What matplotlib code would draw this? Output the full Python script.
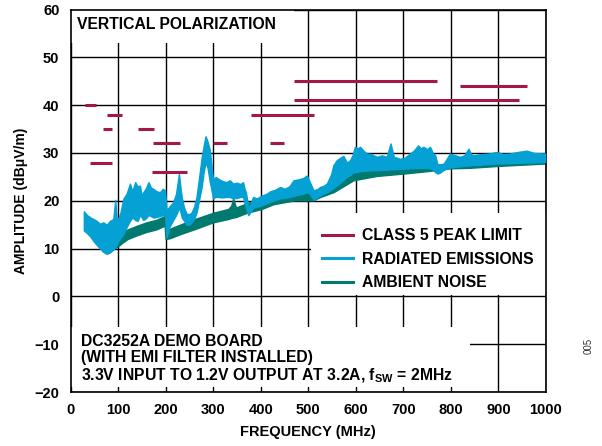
import numpy as np
import matplotlib
matplotlib.use("Agg")
import matplotlib.pyplot as plt
from matplotlib.patches import Rectangle
from matplotlib.lines import Line2D

plt.rcParams['font.family'] = ['Liberation Sans', 'DejaVu Sans']
plt.rcParams['font.weight'] = 'bold'
plt.rcParams['mathtext.fontset'] = 'custom'
plt.rcParams['mathtext.rm'] = 'Liberation Sans:bold'
plt.rcParams['mathtext.bf'] = 'Liberation Sans:bold'

# CISPR 25 class 5 peak limit segments (MHz, dBuV/m)
lim_start = [30, 41, 68, 76, 142, 171, 174, 300, 380, 420, 470, 470, 820]
lim_stop = [54, 88, 87, 108, 175, 245, 230, 330, 512, 450, 944, 770, 960]
lim_level = [40, 28, 35, 38, 35, 26, 32, 32, 38, 32, 41, 45, 44]

# radiated emissions band (upper / lower edge)
re_f = [28, 35, 42, 48, 55, 62, 69, 76, 83, 90,
        94, 97, 100, 105, 111, 118, 125, 130, 136, 141,
        146, 150, 153, 158, 164, 169, 174, 181, 188, 194,
        199, 202, 208, 216, 222, 228, 231, 234, 239, 244,
        250, 255, 260, 265, 270, 276, 280, 284, 288, 293,
        297, 300, 305, 311, 318, 328, 335, 342, 350, 357,
        363, 366, 369, 374, 379, 384, 392, 400, 413, 420,
        430, 441, 450, 460, 469, 480, 490, 497, 503, 511,
        520, 530, 539, 548, 553, 560, 567, 574, 581, 588,
        593, 598, 604, 609, 616, 623, 632, 644, 655, 665,
        673, 680, 693, 703, 714, 722, 731, 737, 742, 750,
        756, 762, 767, 772, 777, 785, 798, 810, 819, 828,
        837, 842, 847, 858, 868, 880, 896, 910, 924, 940,
        959, 975, 998]
re_hi = [17.8, 17.0, 16.5, 16.2, 15.8, 15.2, 15.5, 15.0, 15.8, 16.2,
         20.2, 16.5, 16.2, 17.5, 20.4, 21.5, 23.6, 22.0, 23.9, 23.0,
         23.2, 21.0, 21.8, 22.5, 23.9, 22.8, 22.5, 22.0, 21.8, 22.5,
         22.2, 18.0, 18.8, 19.7, 21.5, 25.7, 23.0, 20.7, 18.5, 17.3,
         17.2, 17.6, 18.8, 20.8, 24.5, 29.2, 31.5, 33.5, 32.5, 30.6,
         27.0, 24.3, 25.0, 24.6, 24.2, 23.9, 24.3, 23.6, 23.8, 23.5,
         23.9, 22.5, 21.8, 18.3, 19.5, 20.8, 20.5, 21.0, 21.5, 22.0,
         22.3, 22.9, 22.5, 23.0, 24.3, 24.5, 24.8, 25.3, 24.0, 22.2,
         22.5, 23.0, 23.6, 25.5, 27.5, 28.5, 29.0, 29.4, 28.0, 28.5,
         29.5, 31.3, 31.0, 31.3, 30.5, 29.9, 29.8, 29.2, 29.5, 29.2,
         32.0, 29.2, 28.8, 29.0, 29.9, 30.5, 31.6, 31.0, 31.3, 30.8,
         31.3, 30.0, 29.5, 27.5, 27.6, 27.8, 29.9, 29.5, 29.2, 29.5,
         30.9, 29.8, 29.5, 29.7, 29.8, 29.9, 30.2, 29.8, 29.9, 30.2,
         30.5, 30.0, 29.9]
re_lo = [13.8, 13.2, 12.5, 11.6, 10.8, 10.0, 9.3, 8.9, 9.2, 9.8,
         10.3, 10.8, 11.5, 12.2, 13.0, 14.5, 15.8, 16.5, 16.0, 15.8,
         17.0, 16.5, 16.0, 16.3, 17.0, 16.8, 16.5, 16.6, 16.8, 17.0,
         17.0, 12.3, 14.5, 16.0, 17.0, 18.5, 17.8, 16.5, 15.8, 15.0,
         15.0, 15.5, 16.2, 17.5, 20.0, 23.0, 26.0, 28.0, 27.0, 24.0,
         22.0, 20.5, 20.8, 20.8, 20.7, 20.8, 20.8, 20.5, 20.6, 20.8,
         20.8, 19.5, 18.5, 17.0, 17.8, 18.5, 18.8, 19.0, 19.5, 19.8,
         20.2, 20.5, 20.6, 20.8, 21.0, 21.3, 21.5, 21.8, 21.5, 20.2,
         20.8, 21.4, 21.8, 22.3, 22.7, 23.2, 23.8, 24.4, 25.0, 25.4,
         25.8, 26.0, 26.1, 26.2, 26.3, 26.3, 26.4, 26.4, 26.5, 26.5,
         26.6, 26.6, 26.7, 26.7, 26.8, 26.8, 26.9, 26.9, 26.9, 26.9,
         26.8, 26.5, 26.0, 25.7, 25.9, 26.5, 27.0, 27.1, 27.2, 27.3,
         27.4, 27.4, 27.5, 27.5, 27.6, 27.7, 27.8, 27.8, 27.9, 27.9,
         28.0, 28.0, 28.1]

# ambient noise band
amb_f = [62, 70, 80, 90, 100, 110, 120, 140, 160, 180,
         198, 200, 210, 230, 262, 300, 332, 338, 342, 348,
         371, 402, 427, 472, 511, 525, 553, 595, 644, 700,
         750, 800, 840, 900, 998]
amb_lo = [10.3, 9.6, 9.4, 9.9, 10.5, 11.3, 12.0, 12.8, 13.5, 14.0,
          14.8, 12.0, 12.2, 13.0, 14.1, 15.5, 16.2, 16.4, 16.5, 16.6,
          17.5, 18.3, 19.3, 20.1, 20.1, 20.8, 21.8, 24.3, 25.2, 25.7,
          26.2, 26.8, 26.9, 27.3, 27.8]
amb_hi = [11.5, 11.0, 11.0, 11.8, 12.8, 13.5, 14.0, 14.8, 15.5, 16.0,
          16.8, 14.0, 14.2, 15.0, 16.2, 17.5, 18.3, 19.0, 20.5, 18.6,
          19.5, 20.4, 21.3, 21.8, 21.5, 22.9, 23.5, 26.0, 26.8, 27.2,
          27.5, 27.7, 27.6, 28.0, 28.4]

c_lim = '#A3184A'
c_re = '#05A0D4'
c_amb = '#00796E'

W, H = 602, 446
fig = plt.figure(figsize=(W / 100, H / 100), dpi=100)
ax = fig.add_axes([70.5 / W, 1 - 392 / H, 475.5 / W, 382.4 / H])
ax.set_xlim(0, 1000)
ax.set_ylim(-20, 60)
ax.set_xticks(np.arange(0, 1001, 100))
ax.set_yticks(np.arange(-20, 61, 10))
ax.set_yticklabels(['\u221220', '\u221210'] + [str(v) for v in range(0, 61, 10)])
ax.set_axisbelow(True)
ax.grid(True, color='black', linewidth=1.0)
ax.tick_params(length=0, labelsize=10.5, pad=8)
for s in ax.spines.values():
    s.set_linewidth(1.2)
ax.set_xlabel('FREQUENCY (MHz)', fontsize=10.5, fontweight='bold', labelpad=6)
ax.set_ylabel('AMPLITUDE (dB\u03bcV/m)', fontsize=10, fontweight='bold', labelpad=5)

# white boxes hiding the grid behind the texts
for x0, y0, w, h in [(0, 53.0, 470, 7.0), (505, 0.3, 495, 17.1), (0, -18.9, 840, 12.4)]:
    ax.add_patch(Rectangle((x0, y0), w, h, facecolor='white', edgecolor='none', zorder=1))

ax.fill_between(amb_f, amb_lo, amb_hi, color=c_amb, linewidth=1.0, zorder=2)
ax.fill_between(re_f, re_lo, re_hi, color=c_re, linewidth=1.0, zorder=3)
ax.hlines(lim_level, lim_start, lim_stop, color=c_lim, linewidth=2.2, zorder=4)

ax.text(14, 58.5, 'VERTICAL POLARIZATION', fontsize=11.3, fontweight='bold', va='top', zorder=5)
ax.text(21.5, -7.9, 'DC3252A DEMO BOARD\n(WITH EMI FILTER INSTALLED)\n'
        '3.3V INPUT TO 1.2V OUTPUT AT 3.2A, f$_{\\mathregular{SW}}$ = 2MHz',
        fontsize=11.3, fontweight='bold', va='top', linespacing=1.1, zorder=5)

handles = [Line2D([], [], color=c, linewidth=2.2) for c in (c_lim, c_re, c_amb)]
ax.legend(handles, ['CLASS 5 PEAK LIMIT', 'RADIATED EMISSIONS', 'AMBIENT NOISE'],
          loc='upper left', bbox_to_anchor=(321.7 / W, 1 - 228 / H),
          bbox_transform=fig.transFigure, frameon=False, fontsize=11.3, borderpad=0,
          borderaxespad=0, handlelength=2.0, handletextpad=0.56, labelspacing=0.55)

fig.text(589 / W, 1 - 346 / H, '005', rotation=90, fontsize=7, fontweight='normal',
         color='#333333', ha='center', va='center')

fig.savefig('out.png', dpi=100)
